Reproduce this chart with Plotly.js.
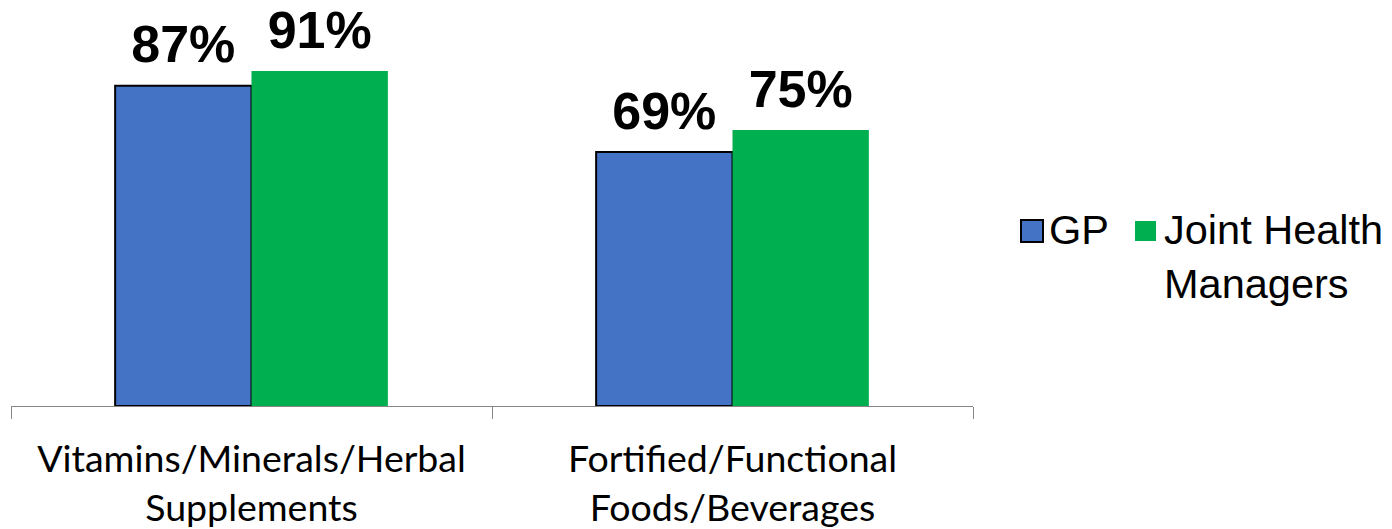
<!DOCTYPE html>
<html>
<head>
<meta charset="utf-8">
<script src="https://cdn.plot.ly/plotly-3.0.1.min.js"></script>
<style>html,body{margin:0;padding:0;background:#fff;}</style>
</head>
<body>
<div id="chart" style="width:1392px;height:529px;"></div>
<script>
const categories = ["Vitamins/Minerals/Herbal<br>Supplements", "Fortified/Functional<br>Foods/Beverages"];
const gpValues = [87, 69];
const jhmValues = [91, 75];
const seriesNames = ["GP", "Joint Health<br>Managers"];

const labelFont = {family: 'Liberation Sans, Arial, sans-serif', size: 52, color: '#000', weight: 'bold'};

const traces = [
  {
    type: 'bar', name: seriesNames[0], x: categories, y: gpValues, offsetgroup: 'a',
    marker: {color: '#4472C4', line: {color: '#000000', width: 2}},
    showlegend: false, hoverinfo: 'none'
  },
  {
    type: 'bar', name: seriesNames[1], x: categories, y: jhmValues, offsetgroup: 'b',
    marker: {color: '#00B050', line: {width: 0}},
    showlegend: false, hoverinfo: 'none'
  },
  {
    type: 'scatter', mode: 'markers+text', x: categories, y: gpValues, offsetgroup: 'a',
    marker: {size: 15, opacity: 0},
    text: gpValues.map(v => v + '%'), textposition: 'top center', textfont: labelFont,
    cliponaxis: false, showlegend: false, hoverinfo: 'none'
  },
  {
    type: 'scatter', mode: 'markers+text', x: categories, y: jhmValues, offsetgroup: 'b',
    marker: {size: 15, opacity: 0},
    text: jhmValues.map(v => v + '%'), textposition: 'top center', textfont: labelFont,
    cliponaxis: false, showlegend: false, hoverinfo: 'none'
  }
];

// plot area: x 11..973, y 38..406
const PL = 11, PR = 973, PT = 38, PB = 406;
const px = v => (v - PL) / (PR - PL);
const py = v => (PB - v) / (PB - PT);

const legendFont = {family: 'Liberation Sans, Arial, sans-serif', size: 41.5, color: '#000'};

const layout = {
  width: 1392, height: 529,
  margin: {l: PL, r: 1392 - PR, t: PT, b: 529 - PB, pad: 0},
  paper_bgcolor: '#fff', plot_bgcolor: '#fff',
  barmode: 'group', bargap: 0.433, bargroupgap: 0,
  scattermode: 'group', scattergap: 0.433,
  showlegend: false,
  xaxis: {
    type: 'category', range: [-0.5, 1.5], fixedrange: true,
    showline: true, linecolor: '#868686', linewidth: 1,
    ticks: 'outside', tickson: 'boundaries', ticklen: 12, tickcolor: '#868686', tickwidth: 1,
    ticklabelstandoff: 20,
    tickfont: {family: 'Lato, sans-serif', size: 37.5, color: '#000'},
    showgrid: false, zeroline: false
  },
  yaxis: {range: [0, 100], visible: false, fixedrange: true, showgrid: false, zeroline: false},
  shapes: [
    {type: 'rect', xref: 'paper', yref: 'paper', x0: px(1021), x1: px(1043), y0: py(242), y1: py(220),
     fillcolor: '#4472C4', line: {color: '#000', width: 2}},
    {type: 'rect', xref: 'paper', yref: 'paper', x0: px(1135), x1: px(1156), y0: py(241), y1: py(221),
     fillcolor: '#00B050', line: {width: 0}}
  ],
  annotations: [
    {xref: 'paper', yref: 'paper', x: px(1047), y: py(229), xanchor: 'left', yanchor: 'middle',
     text: 'GP', showarrow: false, font: legendFont, align: 'left'},
    {xref: 'paper', yref: 'paper', x: px(1162), y: py(204), xanchor: 'left', yanchor: 'top',
     text: seriesNames[1], showarrow: false, font: legendFont, align: 'left'}
  ]
};

Plotly.newPlot('chart', traces, layout, {displayModeBar: false, staticPlot: true});
</script>
</body>
</html>
